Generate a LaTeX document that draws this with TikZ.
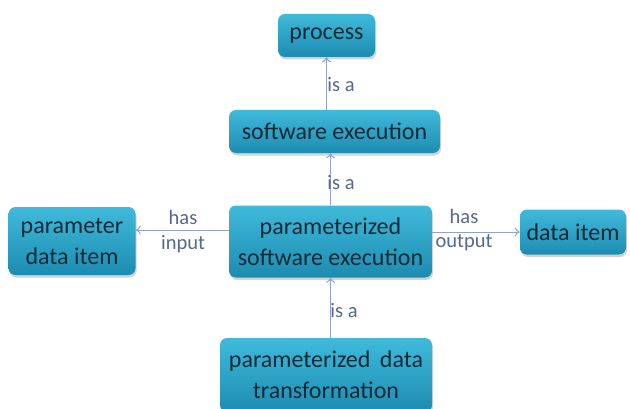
\documentclass[tikz,border=0pt]{standalone}
\usepackage{fontspec}
\setmainfont{Carlito}
\usetikzlibrary{shadows,arrows.meta}
\definecolor{boxtop}{HTML}{40BADA}
\definecolor{boxbot}{HTML}{1C8CB0}
\definecolor{boxtext}{HTML}{0E2A38}
\definecolor{linkc}{HTML}{8EA2D2}
\definecolor{labc}{HTML}{56688E}
\tikzset{
  concept/.style={rounded corners=7pt, top color=boxtop, bottom color=boxbot,
    draw=none, text=boxtext, font=\fontsize{24}{31}\selectfont, align=center,
    inner sep=0pt, drop shadow={opacity=0.35, shadow xshift=1pt, shadow yshift=-2.5pt}},
  link/.style={draw=linkc, line width=1pt, -{To[length=5pt,width=9pt]}},
  lab/.style={text=labc, font=\fontsize{20.5}{24}\selectfont, inner sep=1pt}
}
\begin{document}
\begin{tikzpicture}[x=1pt,y=1pt]
\useasboundingbox[fill=white] (0,0) rectangle (630,408);
\node[concept, minimum width=97pt, minimum height=43pt] (process) at (326.5,372.5) {process};
\node[concept, minimum width=211pt, minimum height=43pt] (swexec) at (334.5,276.5) {software execution};
\node[concept, minimum width=203pt, minimum height=72pt] (pse) at (330.5,166.5) {parameterized\\software execution};
\node[concept, minimum width=127pt, minimum height=68pt] (pdi) at (72,167) {parameter\\data item};
\node[concept, minimum width=106pt, minimum height=45pt] (di) at (573,176) {data item};
\node[concept, minimum width=212pt, minimum height=74pt] (pdt) at (326,33) {parameterized\ \,data\\transformation};

\draw[link] (process.south |- swexec.north) -- (process.south);
\draw[link] (pse.north) -- (pse.north |- swexec.south);
\draw[link] ([yshift=11.5pt]pse.west) -- ([yshift=11.5pt]pse.west -| pdi.east);
\draw[link] (pse.east |- di.west) -- (di.west);
\draw[link] (pse.south |- pdt.north) -- (pse.south);

\node[lab] (l1) at (341,323) {is a};
\node[lab] (l2) at (341,225) {is a};
\node[lab] (l3) at (344,97) {is a};
\node[lab] (l4) at (183,191) {has};
\node[lab] (l5) at (183,164) {input};
\node[lab] (l6) at (464,192) {has};
\node[lab] (l7) at (464,165) {output};
\end{tikzpicture}
\end{document}
